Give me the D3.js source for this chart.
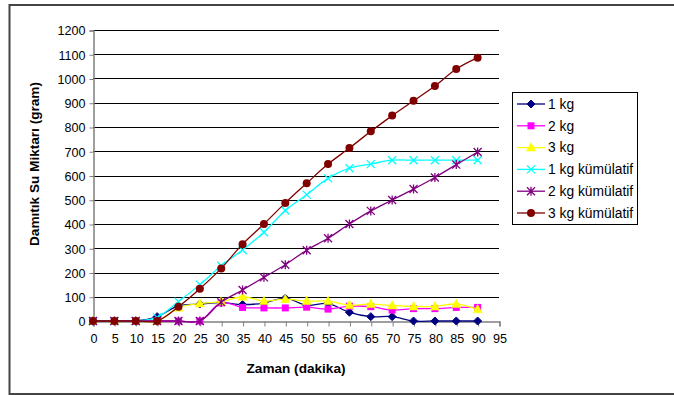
<!DOCTYPE html>
<html><head><meta charset="utf-8">
<script src="https://cdn.jsdelivr.net/npm/d3@7"></script>
<style>body{margin:0;background:#fff;} text{font-family:"Liberation Sans",Arial,sans-serif;}</style>
</head><body>
<svg id="c" width="674" height="395"></svg>
<script>
const times = [0,5,10,15,20,25,30,35,40,45,50,55,60,65,70,75,80,85,90];
const xTicks = [0,5,10,15,20,25,30,35,40,45,50,55,60,65,70,75,80,85,90,95];
const yTicks = [0,100,200,300,400,500,600,700,800,900,1000,1100,1200];
const seriesNames = ["1 kg","2 kg","3 kg","1 kg kümülatif","2 kg kümülatif","3 kg kümülatif"];
const kg1 = [0,0,0,18,62,70,76,68,74,94,65,72,36,18,18,0,0,0,0];
const kg2 = [0,0,0,0,0,0,75,56,54,54,57,49,61,59,45,51,51,56,56];
const kg3 = [0,0,0,0,55,72,80,100,82,90,82,82,66,70,64,60,60,70,48];
const kg1c = [0,0,0,15,80,150,228,293,366,456,521,588,630,647,663,663,663,663,663];
const kg2c = [0,0,0,0,0,0,78,128,180,232,292,341,400,454,499,544,592,645,697];
const kg3c = [0,0,0,0,59,133,217,317,400,487,568,647,713,782,847,908,969,1039,1086];

const colors = ["#000080","#FF00FF","#FFFF00","#00FFFF","#800080","#800000"];
const markers = ["diamond","square","triangle","x","star","circle"];
const data = [kg1,kg2,kg3,kg1c,kg2c,kg3c];

const svg = d3.select("#c");
svg.append("rect").attr("x",9.5).attr("y",5).attr("width",680).attr("height",389)
  .attr("fill","#fff").attr("stroke","#444").attr("stroke-width",2);

const x = d3.scaleLinear().domain([0,95]).range([93,499]);
const y = d3.scaleLinear().domain([0,1200]).range([321,30]);

// gridlines
svg.append("g").selectAll("line").data(yTicks.filter(d=>d>0)).join("line")
  .attr("x1",93).attr("x2",499).attr("y1",d=>Math.round(y(d))+0.5).attr("y2",d=>Math.round(y(d))+0.5)
  .attr("stroke","#000").attr("stroke-width",1);

// axes
const yAxis = svg.append("g").attr("transform","translate(93.5,0.5)")
  .call(d3.axisLeft(y).tickValues(yTicks).tickFormat(d3.format("d")).tickSize(4).tickPadding(4));
const xAxis = svg.append("g").attr("transform","translate(0.5,"+(Math.round(y(0))+0.5)+")")
  .call(d3.axisBottom(x).tickValues(xTicks).tickFormat(d3.format("d")).tickSize(5).tickPadding(8));
[yAxis,xAxis].forEach(a=>{
  a.select(".domain").attr("stroke","#808080").attr("stroke-width",1.5);
  a.selectAll(".tick line").attr("stroke","#808080");
  a.selectAll("text").attr("font-size","12.6px").attr("fill","#000");
});
yAxis.selectAll(".tick text").attr("dy","0.35em");

svg.append("text").attr("transform","translate(39,164) rotate(-90)").attr("text-anchor","middle")
  .attr("font-size","13.6px").attr("font-weight","bold").text("Damıtık Su Miktarı (gram)");
svg.append("text").attr("x",296).attr("y",373).attr("text-anchor","middle")
  .attr("font-size","13.6px").attr("font-weight","bold").text("Zaman (dakika)");

function drawMarker(g, type, color, cx, cy){
  if(type==="diamond"){
    g.append("path").attr("d",`M${cx},${cy-4}L${cx+4},${cy}L${cx},${cy+4}L${cx-4},${cy}Z`).attr("fill",color).attr("stroke",color);
  } else if(type==="square"){
    g.append("rect").attr("x",cx-3.5).attr("y",cy-3.5).attr("width",7).attr("height",7).attr("fill",color);
  } else if(type==="triangle"){
    g.append("path").attr("d",`M${cx},${cy-5}L${cx+4.5},${cy+3.5}L${cx-4.5},${cy+3.5}Z`).attr("fill",color).attr("stroke",color).attr("stroke-width",0.5);
  } else if(type==="x"){
    g.append("path").attr("d",`M${cx-4},${cy-4}L${cx+4},${cy+4}M${cx-4},${cy+4}L${cx+4},${cy-4}`).attr("stroke",color).attr("stroke-width",1.3);
  } else if(type==="star"){
    g.append("path").attr("d",`M${cx-4},${cy-4}L${cx+4},${cy+4}M${cx-4},${cy+4}L${cx+4},${cy-4}M${cx},${cy-4.5}L${cx},${cy+4.5}`).attr("stroke",color).attr("stroke-width",1.3);
  } else if(type==="circle"){
    g.append("circle").attr("cx",cx).attr("cy",cy).attr("r",4).attr("fill",color);
  }
}

const line = d3.line().x((d,i)=>x(times[i])).y(d=>y(d)).curve(d3.curveCatmullRom.alpha(0.5));
data.forEach((vals,k)=>{
  const g = svg.append("g");
  g.append("path").attr("d",line(vals)).attr("fill","none").attr("stroke",colors[k]).attr("stroke-width",1.3);
  vals.forEach((v,i)=>drawMarker(g, markers[k], colors[k], x(times[i]), y(v)));
});

// legend
const lg = svg.append("g");
lg.append("rect").attr("x",512.5).attr("y",92.5).attr("width",125).attr("height",132)
  .attr("fill","#fff").attr("stroke","#000");
seriesNames.forEach((n,k)=>{
  const ly = 104 + k*21.8;
  lg.append("line").attr("x1",517).attr("x2",545).attr("y1",ly).attr("y2",ly).attr("stroke",colors[k]).attr("stroke-width",1.3);
  drawMarker(lg, markers[k], colors[k], 531, ly);
  lg.append("text").attr("x",548).attr("y",ly).attr("dy","0.35em").attr("font-size","13.8px").text(n);
});
</script>
</body></html>
